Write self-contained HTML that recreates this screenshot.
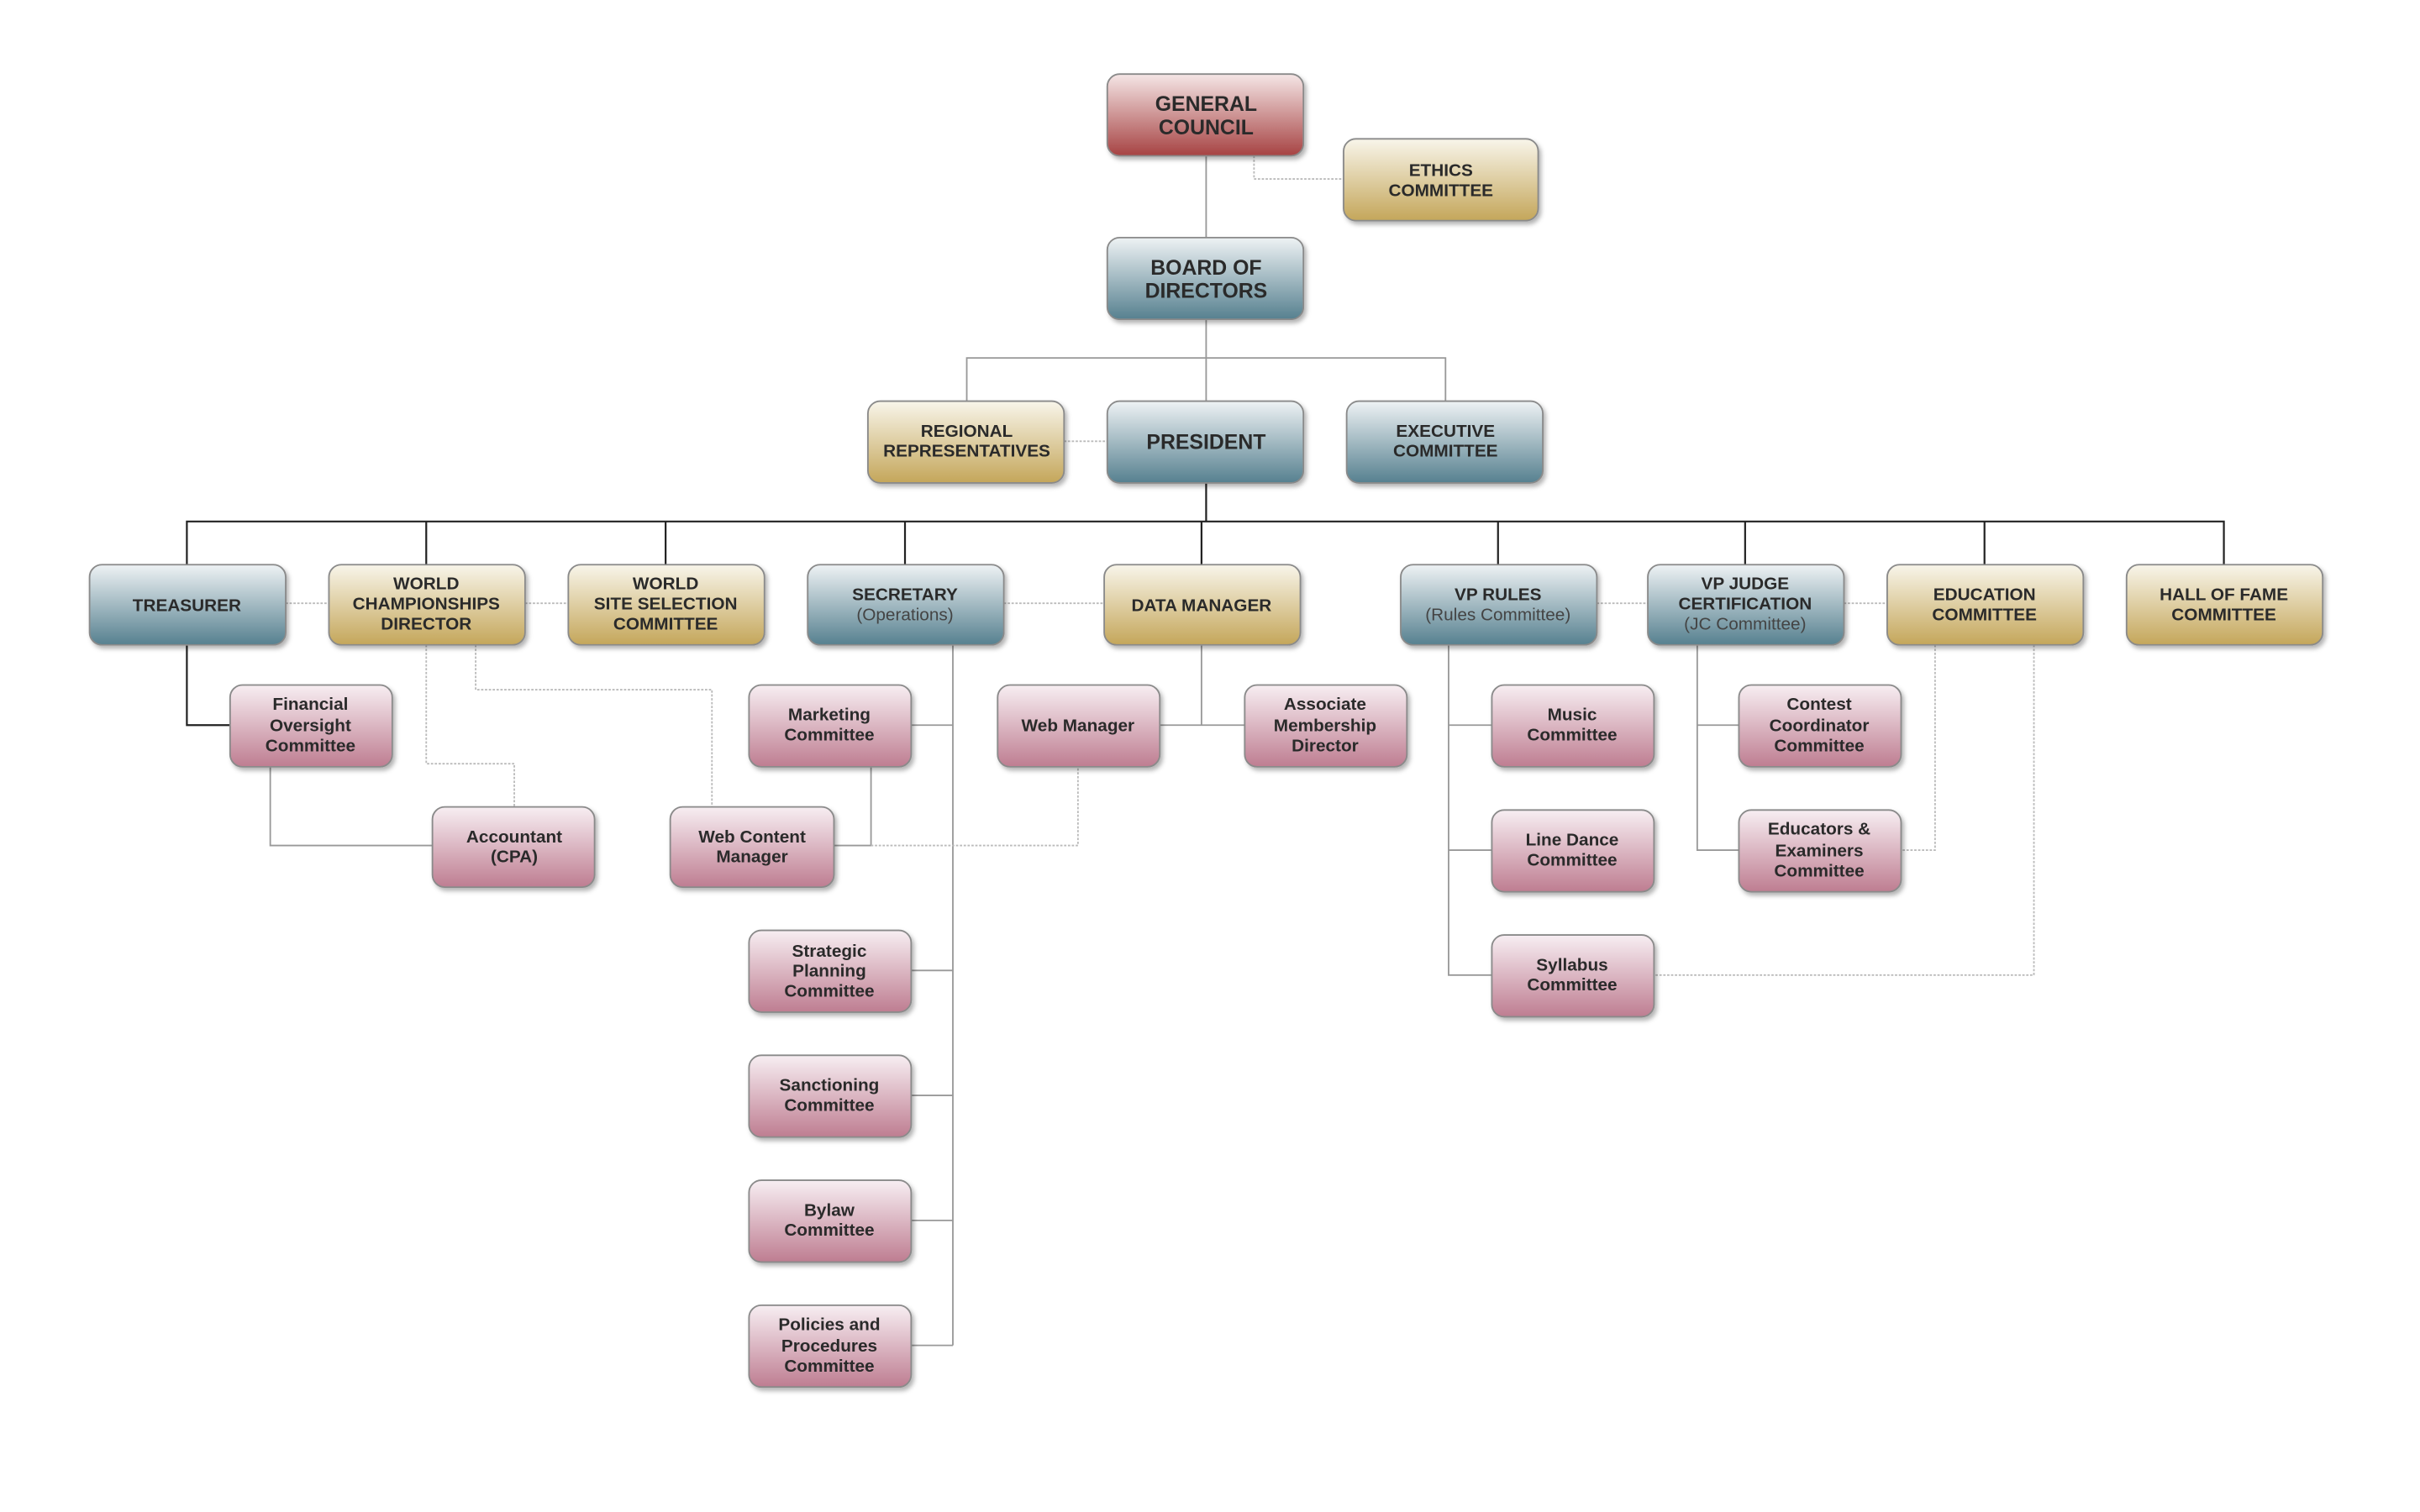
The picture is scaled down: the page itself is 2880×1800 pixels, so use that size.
<!DOCTYPE html>
<html><head><meta charset="utf-8"><style>
html,body{margin:0;padding:0;background:#fff;}
svg{display:block;}
text{font-family:"Liberation Sans",Arial,sans-serif;font-weight:bold;fill:#2a2a2a;text-anchor:middle;}
.n{font-weight:normal;fill:#444;}
.s{stroke:#999;stroke-width:1;fill:none;}
.k{stroke:#222;stroke-width:1.2;fill:none;}
.d{stroke:#bbb;stroke-width:1;fill:none;stroke-dasharray:1.5 1;}
</style></head><body>
<svg width="2880" height="1800" viewBox="0 0 1567 980" preserveAspectRatio="none" xmlns="http://www.w3.org/2000/svg">
<defs>
<linearGradient id="b" x1="0" y1="0" x2="0" y2="1"><stop offset="0" stop-color="#eef2f4"/><stop offset="1" stop-color="#56808f"/></linearGradient>
<linearGradient id="g" x1="0" y1="0" x2="0" y2="1"><stop offset="0" stop-color="#f8f5ea"/><stop offset="1" stop-color="#c4a65a"/></linearGradient>
<linearGradient id="r" x1="0" y1="0" x2="0" y2="1"><stop offset="0" stop-color="#f5e6e6"/><stop offset="1" stop-color="#a64343"/></linearGradient>
<linearGradient id="p" x1="0" y1="0" x2="0" y2="1"><stop offset="0" stop-color="#f7eef2"/><stop offset="1" stop-color="#be7d91"/></linearGradient>
<filter id="sh" x="-10%" y="-10%" width="130%" height="140%"><feDropShadow dx="1.5" dy="2" stdDeviation="1.5" flood-color="#000" flood-opacity="0.3"/></filter>
</defs>
<rect width="1567" height="980" fill="#fff"/>
<path class="s" d="M781 101V154M781 207V260M626 260V232H936V260"/>
<path class="d" d="M812 101V116H870M689 286H717"/>
<path class="k" d="M781 313V338M121 366V338H1440V366M276 338V366M431 338V366M586 338V366M778 338V366M970 338V366M1130 338V366M1285 338V366"/>
<path class="d" d="M185 391H213M340 391H368M650 391H715M1034 391H1067M1194 391H1222"/>
<path class="k" d="M121 418V470H149"/>
<path class="s" d="M175 497V548H280"/>
<path class="d" d="M276 418V495H333V523M308 418V447H461V523"/>
<path class="s" d="M617 418V872M590 470H617M590 629H617M590 710H617M590 791H617M590 872H617"/>
<path class="s" d="M564 497V548H540"/>
<path class="d" d="M564 548H698V497"/>
<path class="s" d="M778 418V470M751 470H806"/>
<path class="s" d="M938 418V632H966M938 470H966M938 551H966M1099 418V551H1126M1099 470H1126"/>
<path class="d" d="M1253 418V551H1231M1317 418V632H1071"/>
<g filter="url(#sh)" stroke="#8a8a8a" stroke-width="1">
<rect x="717" y="48" width="127" height="53" rx="8" fill="url(#r)"/>
<rect x="870" y="90" width="126" height="53" rx="8" fill="url(#g)"/>
<rect x="717" y="154" width="127" height="53" rx="8" fill="url(#b)"/>
<rect x="562" y="260" width="127" height="53" rx="8" fill="url(#g)"/>
<rect x="717" y="260" width="127" height="53" rx="8" fill="url(#b)"/>
<rect x="872" y="260" width="127" height="53" rx="8" fill="url(#b)"/>
<rect x="58" y="366" width="127" height="52" rx="8" fill="url(#b)"/>
<rect x="213" y="366" width="127" height="52" rx="8" fill="url(#g)"/>
<rect x="368" y="366" width="127" height="52" rx="8" fill="url(#g)"/>
<rect x="523" y="366" width="127" height="52" rx="8" fill="url(#b)"/>
<rect x="715" y="366" width="127" height="52" rx="8" fill="url(#g)"/>
<rect x="907" y="366" width="127" height="52" rx="8" fill="url(#b)"/>
<rect x="1067" y="366" width="127" height="52" rx="8" fill="url(#b)"/>
<rect x="1222" y="366" width="127" height="52" rx="8" fill="url(#g)"/>
<rect x="1377" y="366" width="127" height="52" rx="8" fill="url(#g)"/>
<rect x="149" y="444" width="105" height="53" rx="8" fill="url(#p)"/>
<rect x="280" y="523" width="105" height="52" rx="8" fill="url(#p)"/>
<rect x="434" y="523" width="106" height="52" rx="8" fill="url(#p)"/>
<rect x="485" y="444" width="105" height="53" rx="8" fill="url(#p)"/>
<rect x="646" y="444" width="105" height="53" rx="8" fill="url(#p)"/>
<rect x="806" y="444" width="105" height="53" rx="8" fill="url(#p)"/>
<rect x="485" y="603" width="105" height="53" rx="8" fill="url(#p)"/>
<rect x="485" y="684" width="105" height="53" rx="8" fill="url(#p)"/>
<rect x="485" y="765" width="105" height="53" rx="8" fill="url(#p)"/>
<rect x="485" y="846" width="105" height="53" rx="8" fill="url(#p)"/>
<rect x="966" y="444" width="105" height="53" rx="8" fill="url(#p)"/>
<rect x="966" y="525" width="105" height="53" rx="8" fill="url(#p)"/>
<rect x="966" y="606" width="105" height="53" rx="8" fill="url(#p)"/>
<rect x="1126" y="444" width="105" height="53" rx="8" fill="url(#p)"/>
<rect x="1126" y="525" width="105" height="53" rx="8" fill="url(#p)"/>
</g>
<g font-size="13.5">
<text x="781" y="72">GENERAL</text><text x="781" y="87">COUNCIL</text>
<text x="781" y="178">BOARD OF</text><text x="781" y="193">DIRECTORS</text>
<text x="781" y="291">PRESIDENT</text>
</g>
<g font-size="11.3">
<text x="933" y="114">ETHICS</text><text x="933" y="127">COMMITTEE</text>
<text x="626" y="283">REGIONAL</text><text x="626" y="296">REPRESENTATIVES</text>
<text x="936" y="283">EXECUTIVE</text><text x="936" y="296">COMMITTEE</text>
<text x="121" y="396">TREASURER</text>
<text x="276" y="382">WORLD</text><text x="276" y="395">CHAMPIONSHIPS</text><text x="276" y="408">DIRECTOR</text>
<text x="431" y="382">WORLD</text><text x="431" y="395">SITE SELECTION</text><text x="431" y="408">COMMITTEE</text>
<text x="586" y="389">SECRETARY</text><text class="n" x="586" y="402">(Operations)</text>
<text x="778" y="396">DATA MANAGER</text>
<text x="970" y="389">VP RULES</text><text class="n" x="970" y="402">(Rules Committee)</text>
<text x="1130" y="382">VP JUDGE</text><text x="1130" y="395">CERTIFICATION</text><text class="n" x="1130" y="408">(JC Committee)</text>
<text x="1285" y="389">EDUCATION</text><text x="1285" y="402">COMMITTEE</text>
<text x="1440" y="389">HALL OF FAME</text><text x="1440" y="402">COMMITTEE</text>
</g>
<g font-size="11.3">
<text x="201" y="460">Financial</text><text x="201" y="474">Oversight</text><text x="201" y="487">Committee</text>
<text x="333" y="546">Accountant</text><text x="333" y="559">(CPA)</text>
<text x="487" y="546">Web Content</text><text x="487" y="559">Manager</text>
<text x="537" y="467">Marketing</text><text x="537" y="480">Committee</text>
<text x="698" y="474">Web Manager</text>
<text x="858" y="460">Associate</text><text x="858" y="474">Membership</text><text x="858" y="487">Director</text>
<text x="537" y="620">Strategic</text><text x="537" y="633">Planning</text><text x="537" y="646">Committee</text>
<text x="537" y="707">Sanctioning</text><text x="537" y="720">Committee</text>
<text x="537" y="788">Bylaw</text><text x="537" y="801">Committee</text>
<text x="537" y="862">Policies and</text><text x="537" y="876">Procedures</text><text x="537" y="889">Committee</text>
<text x="1018" y="467">Music</text><text x="1018" y="480">Committee</text>
<text x="1018" y="548">Line Dance</text><text x="1018" y="561">Committee</text>
<text x="1018" y="629">Syllabus</text><text x="1018" y="642">Committee</text>
<text x="1178" y="460">Contest</text><text x="1178" y="474">Coordinator</text><text x="1178" y="487">Committee</text>
<text x="1178" y="541">Educators &amp;</text><text x="1178" y="555">Examiners</text><text x="1178" y="568">Committee</text>
</g>
</svg>
</body></html>
